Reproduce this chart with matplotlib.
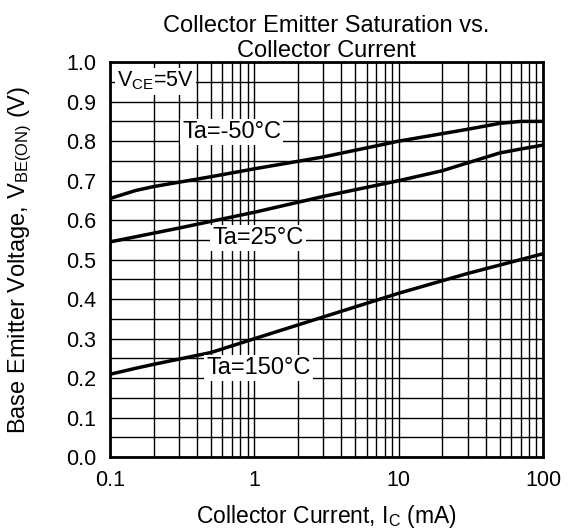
import matplotlib
matplotlib.use("Agg")
import matplotlib.pyplot as plt
import numpy as np
from matplotlib.ticker import LogLocator, MultipleLocator, FixedLocator, FixedFormatter

plt.rcParams["font.family"] = ["Liberation Sans", "DejaVu Sans"]
plt.rcParams["mathtext.fontset"] = "custom"
plt.rcParams["mathtext.rm"] = "Liberation Sans"
plt.rcParams["mathtext.it"] = "Liberation Sans"

# collector current (mA) and base-emitter voltage (V)
ic_m50 = [0.1, 0.15, 0.2, 0.5, 1, 3, 10, 30, 50, 70, 100]
vbe_m50 = [0.655, 0.675, 0.685, 0.71, 0.73, 0.76, 0.80, 0.83, 0.845, 0.85, 0.85]

ic_25 = [0.1, 0.3, 1, 3, 10, 20, 30, 50, 70, 100]
vbe_25 = [0.545, 0.58, 0.62, 0.66, 0.70, 0.725, 0.745, 0.77, 0.78, 0.79]

ic_150 = [0.1, 0.15, 0.2, 0.5, 1, 3, 10, 30, 100]
vbe_150 = [0.21, 0.225, 0.235, 0.265, 0.30, 0.355, 0.415, 0.465, 0.515]

x_ticks = [0.1, 1, 10, 100]
x_labels = ["0.1", "1", "10", "100"]
y_ticks = [0.0, 0.1, 0.2, 0.3, 0.4, 0.5, 0.6, 0.7, 0.8, 0.9, 1.0]

fig = plt.figure(figsize=(5.68, 5.31), dpi=100)
ax = fig.add_axes([0.194, 0.139, 0.762, 0.744])

ax.plot(ic_m50, vbe_m50, color="black", lw=2.5, zorder=4)
ax.plot(ic_25, vbe_25, color="black", lw=2.5, zorder=4)
ax.plot(ic_150, vbe_150, color="black", lw=2.5, zorder=4)

ax.set_xscale("log")
ax.set_xlim(0.1, 100)
ax.set_ylim(0, 1.0)

ax.xaxis.set_major_locator(FixedLocator(x_ticks))
ax.xaxis.set_major_formatter(FixedFormatter(x_labels))
ax.xaxis.set_minor_locator(LogLocator(base=10, subs=np.arange(2, 10)))
ax.xaxis.set_minor_formatter(plt.NullFormatter())
ax.set_yticks(y_ticks)
ax.set_yticklabels([f"{v:.1f}" for v in y_ticks])
ax.yaxis.set_minor_locator(MultipleLocator(0.05))

ax.grid(True, which="both", color="black", lw=1.0)
ax.set_axisbelow(True)
ax.tick_params(which="both", length=0, labelsize=15.5)
ax.tick_params(axis="x", pad=9)
ax.tick_params(axis="y", pad=10)

for s in ax.spines.values():
    s.set_linewidth(2)

box = dict(facecolor="white", edgecolor="none", pad=1.5)
ax.text(0.016, 0.952, "V$_{\\mathregular{CE}}$=5V", transform=ax.transAxes,
        fontsize=15.5, va="center", ha="left", bbox=box, zorder=5)
ax.text(0.166, 0.823, "Ta=-50°C", transform=ax.transAxes,
        fontsize=17, va="center", ha="left", bbox=box, zorder=5)
ax.text(0.236, 0.554, "Ta=25°C", transform=ax.transAxes,
        fontsize=17, va="center", ha="left", bbox=box, zorder=5)
ax.text(0.222, 0.225, "Ta=150°C", transform=ax.transAxes,
        fontsize=17, va="center", ha="left", bbox=box, zorder=5)

ax.set_title("Collector Emitter Saturation vs.\nCollector Current", fontsize=17,
             linespacing=1.2, pad=3)
ax.set_xlabel("Collector Current, I$_{\\mathregular{C}}$ (mA)", fontsize=16.5)
ax.set_ylabel("Base Emitter Voltage, V$_{\\mathregular{BE(ON)}}$ (V)", fontsize=17)
ax.xaxis.set_label_coords(0.5, -0.115)
ax.yaxis.set_label_coords(-0.175, 0.5)

fig.savefig("out.png", dpi=100)
